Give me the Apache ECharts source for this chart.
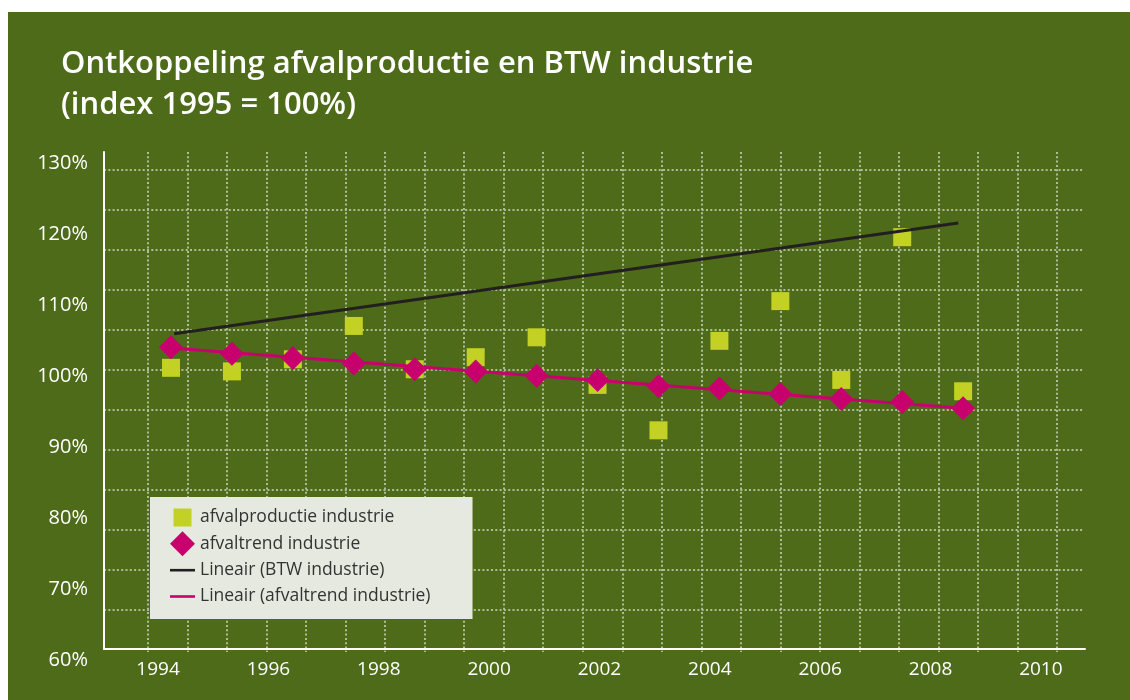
<!DOCTYPE html>
<html>
<head>
<meta charset="utf-8">
<script src="https://cdn.jsdelivr.net/npm/echarts@6/dist/echarts.min.js"></script>
<style>
  html, body { margin: 0; padding: 0; background: #fff; }
  #main { width: 1130px; height: 700px; }
</style>
</head>
<body>
<div id="main"></div>
<script>
// jaren van de meetpunten
var years = [1995, 1996, 1997, 1998, 1999, 2000, 2001, 2002, 2003, 2004, 2005, 2006, 2007, 2008];
// afvalproductie industrie (index, %)
var afvalproductie = [99.6, 99.1, 100.8, 105.5, 99.4, 101.1, 103.9, 97.2, 90.8, 103.4, 109.0, 97.9, 118.0, 96.3];
// afvaltrend industrie (index, %)
var afvaltrend = [102.5, 101.6, 101.0, 100.2, 99.4, 99.1, 98.5, 97.9, 97.0, 96.7, 95.9, 95.2, 94.8, 93.9];
// lineaire trendlijnen (begin- en eindpunt)
var btwLinX = [1995.05, 2007.92];
var btwLinY = [104.4, 120.0];
var afvalLinX = [1995, 2008];
var afvalLinY = [102.4, 93.9];
// labels op de x-as
var yearLabels = [1994, 1996, 1998, 2000, 2002, 2004, 2006, 2008, 2010];

var font = 'Open Sans';
var gridDots = { color: '#aebd95', width: 2, type: [2, 2.3] };
var lineIcon = 'path://M0,0M25,25M0,11.3h25v2.6h-25z';

function pairs(xs, ys) {
	var out = [];
	for (var i = 0; i < xs.length; i++) out.push([xs[i], ys[i]]);
	return out;
}

var chart = echarts.init(document.getElementById('main'));

var option = {
	backgroundColor: '#ffffff',
	animation: false,
	graphic: [{
		type: 'rect',
		z: -10,
		silent: true,
		shape: { x: 8, y: 12, width: 1122, height: 688 },
		style: { fill: '#4e6b1a' }
	}],
	title: {
		text: 'Ontkoppeling afvalproductie en BTW industrie\n(index 1995 = 100%)',
		left: 61,
		top: 44,
		padding: 0,
		textStyle: { color: '#fff', fontFamily: font, fontSize: 31, fontWeight: 600, lineHeight: 41 }
	},
	legend: {
		orient: 'vertical',
		left: 150,
		top: 497,
		padding: [8, 42, 10, 20],
		itemGap: 1.3,
		itemWidth: 25,
		itemHeight: 25,
		backgroundColor: '#e6e9df',
		textStyle: { color: '#333', fontFamily: font, fontSize: 17.5 },
		data: [
			{ name: 'afvalproductie industrie', icon: 'path://M0,0M25,25M3.5,3.5h18v18h-18z' },
			{ name: 'afvaltrend industrie', icon: 'diamond' },
			{ name: 'Lineair (BTW industrie)', icon: lineIcon },
			{ name: 'Lineair (afvaltrend industrie)', icon: lineIcon }
		]
	},
	grid: [
		{ left: 104, top: 152, width: 981, height: 497 },
		// horizontale stippellijnen
		{ left: 104, top: 170, width: 980, height: 440 },
		// verticale stippellijnen
		{ left: 148, top: 152, width: 909, height: 500 }
	],
	xAxis: [
		{
			gridIndex: 0, type: 'value', position: 'bottom',
			min: 1993.02, max: 2010.8,
			axisLine: { show: true, lineStyle: { color: '#fff', width: 2 } },
			axisTick: { show: false },
			splitLine: { show: false },
			axisLabel: {
				customValues: yearLabels, color: '#fff', fontFamily: font, fontSize: 19, margin: 11,
				formatter: function (v) { return String(Math.round(v)); }
			}
		},
		{ gridIndex: 0, type: 'value', min: 1993.9, max: 2010, show: false },
		{ gridIndex: 1, type: 'value', min: 0, max: 1, show: false },
		{
			gridIndex: 2, type: 'value', min: 0, max: 23, interval: 1,
			axisLine: { show: false }, axisTick: { show: false }, axisLabel: { show: false },
			splitLine: { show: true, lineStyle: gridDots }
		}
	],
	yAxis: [
		{
			gridIndex: 0, type: 'value', min: 60, max: 130, interval: 10,
			axisLine: { show: true, lineStyle: { color: '#fff', width: 2 } },
			axisTick: { show: false },
			splitLine: { show: false },
			axisLabel: {
				color: '#fff', fontFamily: font, fontSize: 20, margin: 16,
				verticalAlign: 'top', lineHeight: 23,
				formatter: '{value}%'
			}
		},
		{
			gridIndex: 1, type: 'value', min: 0, max: 11, interval: 1,
			axisLine: { show: false }, axisTick: { show: false }, axisLabel: { show: false },
			splitLine: { show: true, lineStyle: gridDots }
		},
		{ gridIndex: 2, type: 'value', min: 0, max: 1, show: false }
	],
	series: [
		{
			name: 'afvalproductie industrie',
			type: 'scatter',
			xAxisIndex: 1, yAxisIndex: 0,
			symbol: 'rect',
			symbolSize: 18,
			itemStyle: { color: '#c3d024', opacity: 1 },
			data: pairs(years, afvalproductie)
		},
		{
			name: 'Lineair (BTW industrie)',
			type: 'line',
			xAxisIndex: 1, yAxisIndex: 0,
			symbol: 'none',
			lineStyle: { color: '#231f20', width: 3 },
			itemStyle: { color: '#231f20' },
			data: pairs(btwLinX, btwLinY)
		},
		{
			name: 'Lineair (afvaltrend industrie)',
			type: 'line',
			xAxisIndex: 1, yAxisIndex: 0,
			symbol: 'none',
			lineStyle: { color: '#c8006e', width: 3 },
			itemStyle: { color: '#c8006e' },
			data: pairs(afvalLinX, afvalLinY)
		},
		{
			name: 'afvaltrend industrie',
			type: 'scatter',
			xAxisIndex: 1, yAxisIndex: 0,
			symbol: 'diamond',
			symbolSize: 24,
			itemStyle: { color: '#c8006e', opacity: 1 },
			data: pairs(years, afvaltrend)
		}
	]
};

chart.setOption(option);
</script>
</body>
</html>
